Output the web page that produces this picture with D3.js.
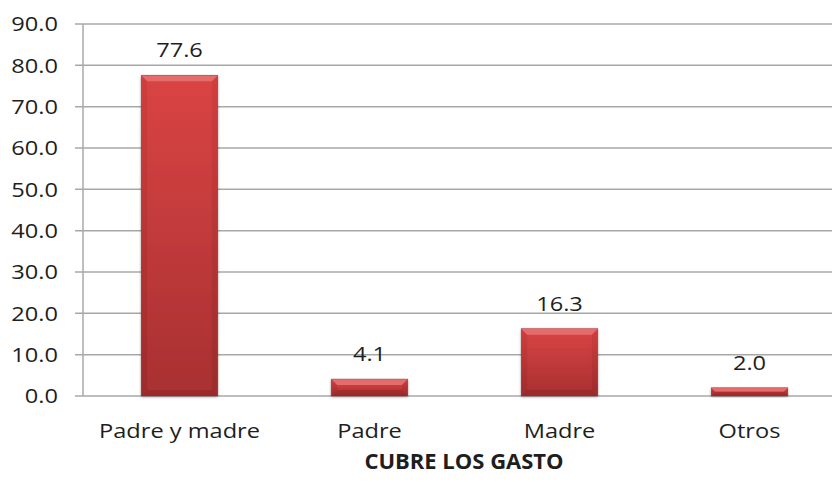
<!DOCTYPE html>
<html>
<head>
<meta charset="utf-8">
<script src="https://cdn.jsdelivr.net/npm/d3@7"></script>
<style>
  html, body { margin: 0; padding: 0; background: #ffffff; }
  svg { display: block; }
  text { font-family: "Open Sans", "Noto Sans", sans-serif; fill: #1e1e1e; }
</style>
</head>
<body>
<div id="chart"></div>
<script>
const categories = ["Padre y madre", "Padre", "Madre", "Otros"];
const values = [77.6, 4.1, 16.3, 2.0];
const yTicks = [0, 10, 20, 30, 40, 50, 60, 70, 80, 90];
const axisTitle = "CUBRE LOS GASTO";

const W = 832, H = 482;
const plot = { left: 83, right: 832, top: 24, bottom: 396 };
const sx = 1.18; // horizontal text stretch

const svg = d3.select("#chart").append("svg").attr("width", W).attr("height", H);
const defs = svg.append("defs");

const body = defs.append("linearGradient").attr("id", "barBody").attr("x1", 0).attr("y1", 0).attr("x2", 0).attr("y2", 1);
body.append("stop").attr("offset", "0%").attr("stop-color", "#da4444");
body.append("stop").attr("offset", "100%").attr("stop-color", "#a83031");

const side = defs.append("linearGradient").attr("id", "barSide").attr("x1", 0).attr("y1", 0).attr("x2", 0).attr("y2", 1);
side.append("stop").attr("offset", "0%").attr("stop-color", "#c63636");
side.append("stop").attr("offset", "100%").attr("stop-color", "#8f2526");

const f = defs.append("filter").attr("id", "shadow").attr("x", "-20%").attr("y", "-20%").attr("width", "140%").attr("height", "140%");
f.append("feDropShadow").attr("dx", 0).attr("dy", 1).attr("stdDeviation", 1.6).attr("flood-color", "#000").attr("flood-opacity", 0.35);

const x = d3.scaleBand().domain(categories).range([84.5, 844.5]).paddingInner(0.597).paddingOuter(0.2985);
const y = d3.scaleLinear().domain([0, 90]).range([plot.bottom, plot.top]);

// gridlines
svg.append("g").selectAll("line").data(yTicks).join("line")
  .attr("x1", plot.left - 8).attr("x2", plot.right)
  .attr("y1", d => y(d)).attr("y2", d => y(d))
  .attr("stroke", "#a8a8a8").attr("stroke-width", 1.5);

// y axis line
svg.append("line").attr("x1", plot.left).attr("x2", plot.left)
  .attr("y1", y(90)).attr("y2", y(0)).attr("stroke", "#a8a8a8").attr("stroke-width", 1.5);

// y tick labels
svg.append("g").selectAll("text").data(yTicks).join("text")
  .attr("transform", d => `translate(58,${y(d)}) scale(${sx},1)`)
  .attr("text-anchor", "end").attr("dy", "0.36em")
  .style("font-size", "20px")
  .text(d3.format(".1f"));

// bars
const bev = 6;
const bars = svg.append("g").selectAll("g").data(values).join("g")
  .attr("transform", (d, i) => `translate(${x(categories[i])},${y(d)})`);

bars.each(function (d) {
  const g = d3.select(this);
  const w = x.bandwidth();
  const h = y(0) - y(d);
  const b = Math.min(bev, h / 2.2);
  g.append("rect").attr("width", w).attr("height", h).attr("fill", "url(#barBody)").attr("filter", "url(#shadow)");
  g.append("path").attr("d", `M0,0 L${b},${b} L${b},${h - b} L0,${h} Z`).attr("fill", "url(#barSide)").attr("opacity", 0.45);
  g.append("path").attr("d", `M${w},0 L${w - b},${b} L${w - b},${h - b} L${w},${h} Z`).attr("fill", "url(#barSide)").attr("opacity", 0.45);
  g.append("path").attr("d", `M0,0 L${w},0 L${w - b},${b} L${b},${b} Z`).attr("fill", "#e66c6c");
  g.append("path").attr("d", `M0,${h} L${w},${h} L${w - b},${h - b} L${b},${h - b} Z`).attr("fill", "#8c2223").attr("opacity", 0.45);
  g.append("rect").attr("width", w).attr("height", h).attr("fill", "none").attr("stroke", "#8a2a2a").attr("stroke-width", 0.6).attr("opacity", 0.5);
});

// value labels
svg.append("g").selectAll("text").data(values).join("text")
  .attr("transform", (d, i) => `translate(${x(categories[i]) + x.bandwidth() / 2},${y(d) - 18}) scale(${sx},1)`)
  .attr("text-anchor", "middle")
  .style("font-size", "20px")
  .text(d => d3.format(".1f")(d));

// category labels
svg.append("g").selectAll("text").data(categories).join("text")
  .attr("transform", d => `translate(${x(d) + x.bandwidth() / 2},438) scale(${sx},1)`)
  .attr("text-anchor", "middle")
  .style("font-size", "20px")
  .text(d => d);

// axis title
svg.append("text")
  .attr("transform", `translate(464,469) scale(1.0,1)`)
  .attr("text-anchor", "middle")
  .style("font-size", "22px").style("font-weight", "bold")
  .text(axisTitle);
</script>
</body>
</html>
